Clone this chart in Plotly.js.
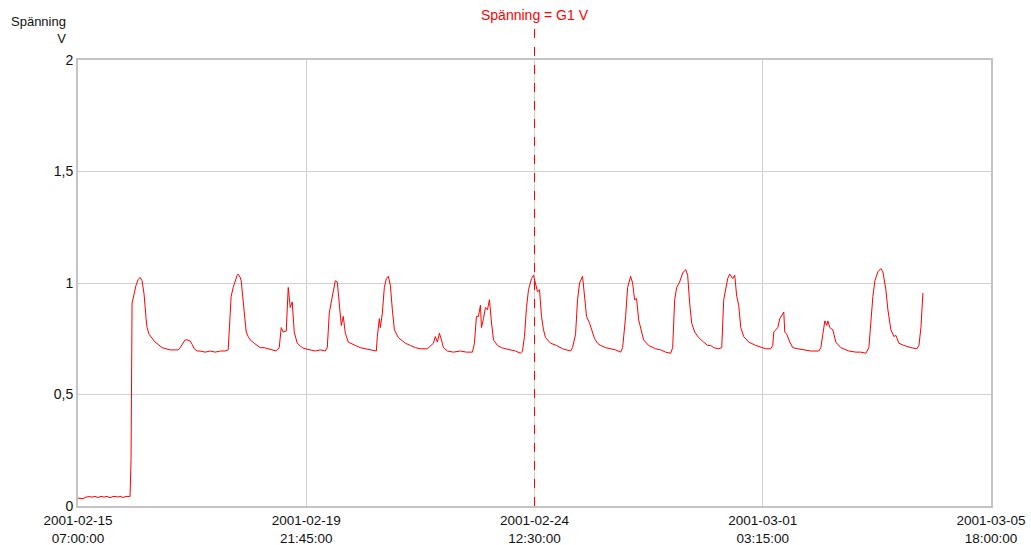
<!DOCTYPE html>
<html>
<head>
<meta charset="utf-8">
<script src="https://cdn.plot.ly/plotly-3.0.1.min.js"></script>
<style>html,body{margin:0;padding:0;background:#fff;}#chart{width:1031px;height:545px;}</style>
</head>
<body>
<div id="chart"></div>
<script>
// Series start time and hours elapsed for each sample
const startTime = '2001-02-15T07:00:00Z';
const hoursFromStart = [
  0, 0.97, 2.43, 3.89, 5.34, 6.80, 8.26, 9.72, 11.17, 12.63, 14.09, 15.54, 17.00, 18.46, 19.43, 20.40, 21.86, 23.32, 24.29, 25.26,
  25.74, 26.23, 27.20, 28.17, 29.15, 30.12, 31.09, 32.06, 33.03, 33.52, 34.49, 35.95, 37.40, 38.86, 40.80, 42.75, 44.69, 47.12, 48.58,
  49.55, 51.00, 51.98, 52.95, 54.40, 55.38, 56.35, 57.80, 59.26, 61.69, 64.12, 66.55, 68.98, 71.41, 72.86,
  73.83, 74.32, 75.29, 76.26, 77.23, 77.72, 78.69, 79.18, 80.15, 80.63, 81.61, 82.58, 83.55, 85.49, 86.95, 88.41, 90.35, 92.29, 94.24, 96.18,
  97.64, 98.61, 99.58, 101.04, 102.01, 102.98, 103.95, 104.92, 106.38, 107.84, 108.81, 110.27, 112.69, 115.12, 117.55, 119.98,
  120.95, 121.92, 122.89, 123.87, 124.84, 125.81, 126.78, 127.75, 128.72, 129.70, 131.15, 133.10, 134.55, 136.98, 139.41, 141.84, 144.75,
  145.24, 146.21, 146.70, 147.67, 148.64, 149.61, 150.58, 151.55, 152.53, 153.50, 155.44, 157.38, 158.84, 161.27, 163.70, 166.13, 169.53,
  172.44, 173.41, 174.38, 175.36, 176.33, 177.30, 179.24, 182.16, 185.56, 188.47, 191.39,
  192.36, 193.33, 194.30, 195.27, 195.76, 196.73, 197.70, 198.67, 199.64, 200.61, 201.59, 203.53, 205.47, 207.42, 209.84, 212.27, 214.70,
  215.67, 216.64, 217.61, 218.59, 220.04, 221.02, 221.99, 222.96, 223.93, 224.90, 225.87, 226.85, 229.27, 232.19, 235.10, 237.05, 238.99,
  239.96, 241.42, 242.39, 243.36, 244.82, 245.80, 246.76, 248.22, 249.19, 250.65, 252.10, 253.56, 255.99, 258.42, 260.85, 263.28,
  264.26, 265.71, 266.68, 268.14, 269.11, 270.08, 271.05, 272.02, 273.00, 274.45, 276.88, 278.82, 280.28, 282.71, 285.14, 287.56,
  288.54, 289.51, 290.49, 291.94, 293.40, 294.85, 295.82, 296.79, 297.76, 299.22, 301.17, 303.59, 305.53, 306.99, 308.45, 310.88,
  312.34, 313.31, 314.28, 315.25, 316.22, 317.68, 318.65, 319.62, 320.60, 321.57, 323.02, 325.45, 328.85, 332.26, 333.71, 336.14,
  337.11, 337.60, 338.57, 339.54, 340.51, 341.48, 342.45, 342.94, 343.91, 345.37, 346.83, 349.26, 353.14, 355.57, 359.46,
  360.43, 361.40, 362.37, 363.34, 363.83, 364.80, 366.26, 367.71, 370.14, 374.03, 377.43, 379.86, 382.29,
  383.74, 384.72, 385.69, 386.66, 388.11, 389.57, 390.55, 392.00, 392.97, 394.43, 395.88, 396.86, 398.31, 400.74, 404.14, 407.05,
  408.03, 409.00, 409.97
];
const voltage = [
  0.035, 0.035, 0.033, 0.040, 0.042, 0.040, 0.043, 0.038, 0.043, 0.040, 0.043, 0.037, 0.043, 0.042, 0.040, 0.044, 0.038, 0.043, 0.042, 0.043,
  0.21, 0.91, 0.95, 0.99, 1.015, 1.025, 1.01, 0.95, 0.84, 0.80, 0.77, 0.75, 0.735, 0.725, 0.71, 0.705, 0.70, 0.70, 0.70,
  0.71, 0.73, 0.745, 0.745, 0.74, 0.725, 0.705, 0.695, 0.695, 0.69, 0.695, 0.69, 0.695, 0.695, 0.70,
  0.86, 0.94, 0.98, 1.01, 1.035, 1.04, 1.025, 1.01, 0.93, 0.88, 0.78, 0.76, 0.745, 0.73, 0.72, 0.71, 0.71, 0.705, 0.70, 0.695,
  0.71, 0.80, 0.78, 0.785, 0.98, 0.89, 0.915, 0.78, 0.73, 0.72, 0.71, 0.705, 0.70, 0.695, 0.70, 0.695,
  0.71, 0.865, 0.915, 0.97, 1.01, 1.005, 0.91, 0.81, 0.85, 0.775, 0.735, 0.725, 0.72, 0.71, 0.705, 0.70, 0.695,
  0.76, 0.84, 0.80, 0.865, 0.98, 1.02, 1.03, 0.99, 0.88, 0.79, 0.755, 0.74, 0.73, 0.72, 0.71, 0.705, 0.705,
  0.73, 0.76, 0.735, 0.775, 0.745, 0.71, 0.695, 0.69, 0.695, 0.69, 0.69,
  0.73, 0.85, 0.85, 0.90, 0.80, 0.84, 0.89, 0.88, 0.925, 0.825, 0.745, 0.72, 0.71, 0.705, 0.70, 0.695, 0.685,
  0.695, 0.76, 0.89, 0.97, 1.02, 1.035, 1.00, 0.96, 0.97, 0.85, 0.79, 0.755, 0.73, 0.72, 0.705, 0.70, 0.695,
  0.71, 0.77, 0.925, 1.00, 1.03, 0.94, 0.85, 0.82, 0.79, 0.75, 0.73, 0.72, 0.71, 0.705, 0.70, 0.69,
  0.71, 0.85, 0.98, 1.03, 1.00, 0.925, 0.93, 0.835, 0.80, 0.745, 0.72, 0.71, 0.705, 0.70, 0.69, 0.685,
  0.71, 0.925, 0.98, 1.005, 1.045, 1.06, 1.035, 0.91, 0.82, 0.78, 0.755, 0.735, 0.72, 0.72, 0.71, 0.705,
  0.71, 0.925, 0.98, 1.02, 1.04, 1.02, 1.035, 0.94, 0.90, 0.80, 0.76, 0.735, 0.72, 0.71, 0.705, 0.705,
  0.72, 0.78, 0.79, 0.80, 0.84, 0.855, 0.87, 0.78, 0.77, 0.735, 0.71, 0.705, 0.70, 0.695, 0.695,
  0.71, 0.77, 0.83, 0.81, 0.83, 0.80, 0.79, 0.735, 0.71, 0.695, 0.69, 0.69, 0.685,
  0.71, 0.85, 0.94, 1.01, 1.05, 1.065, 1.05, 0.97, 0.88, 0.79, 0.76, 0.765, 0.73, 0.72, 0.71, 0.705,
  0.72, 0.80, 0.955
];

const xTickVals = ['2001-02-15 07:00:00', '2001-02-19 21:45:00', '2001-02-24 12:30:00', '2001-03-01 03:15:00', '2001-03-05 18:00:00'];
const xTickText = ['2001-02-15<br>07:00:00', '2001-02-19<br>21:45:00', '2001-02-24<br>12:30:00', '2001-03-01<br>03:15:00', '2001-03-05<br>18:00:00'];
const yTickVals = [0, 0.5, 1, 1.5, 2];
const yTickText = ['0', '0,5', '1', '1,5', '2'];
const markerTime = '2001-02-24 12:30:00';
const markerLabel = 'Spänning = G1 V';
const yLabel = 'Spänning<br>V';

const startMs = Date.parse(startTime);
const xTimes = hoursFromStart.map(h => startMs + h * 3600000);

const fam = 'Liberation Sans, Arial, sans-serif';

Plotly.newPlot('chart', [{
  x: xTimes, y: voltage, type: 'scatter', mode: 'lines',
  line: {color: '#ff0000', width: 1}, hoverinfo: 'skip'
}], {
  width: 1031, height: 545,
  margin: {l: 78, r: 40, t: 60, b: 39},
  paper_bgcolor: '#ffffff', plot_bgcolor: '#ffffff',
  showlegend: false,
  font: {family: fam, size: 13, color: '#111'},
  xaxis: {
    type: 'date', range: [xTickVals[0], xTickVals[4]],
    tickmode: 'array', tickvals: xTickVals, ticktext: xTickText,
    showgrid: true, gridcolor: '#d0d0d0', gridwidth: 1,
    showline: true, mirror: true, linecolor: '#c4c4c4', linewidth: 2,
    ticks: '', zeroline: false, tickfont: {family: fam, size: 13.5, color: '#111'}, ticklabelstandoff: 1
  },
  yaxis: {
    range: [0, 2], tickmode: 'array', tickvals: yTickVals, ticktext: yTickText,
    showgrid: true, gridcolor: '#d0d0d0', gridwidth: 1,
    showline: true, mirror: true, linecolor: '#c4c4c4', linewidth: 2,
    ticks: '', zeroline: false, tickfont: {family: fam, size: 14, color: '#111'}
  },
  shapes: [{
    type: 'line', xref: 'x', yref: 'paper', x0: markerTime, x1: markerTime, y0: 0, y1: 1.072,
    line: {color: '#ff0000', width: 1, dash: 'dash'}
  }],
  annotations: [
    {text: markerLabel, xref: 'x', yref: 'paper', x: markerTime, y: 1.078, xanchor: 'center', yanchor: 'bottom',
     showarrow: false, font: {family: fam, size: 14, color: '#ff0000'}},
    {text: yLabel, xref: 'paper', yref: 'paper', x: -0.011, y: 1.068, xanchor: 'right', yanchor: 'middle', align: 'right',
     showarrow: false, font: {family: fam, size: 13, color: '#111'}}
  ]
}, {displayModeBar: false, staticPlot: true});
</script>
</body>
</html>
